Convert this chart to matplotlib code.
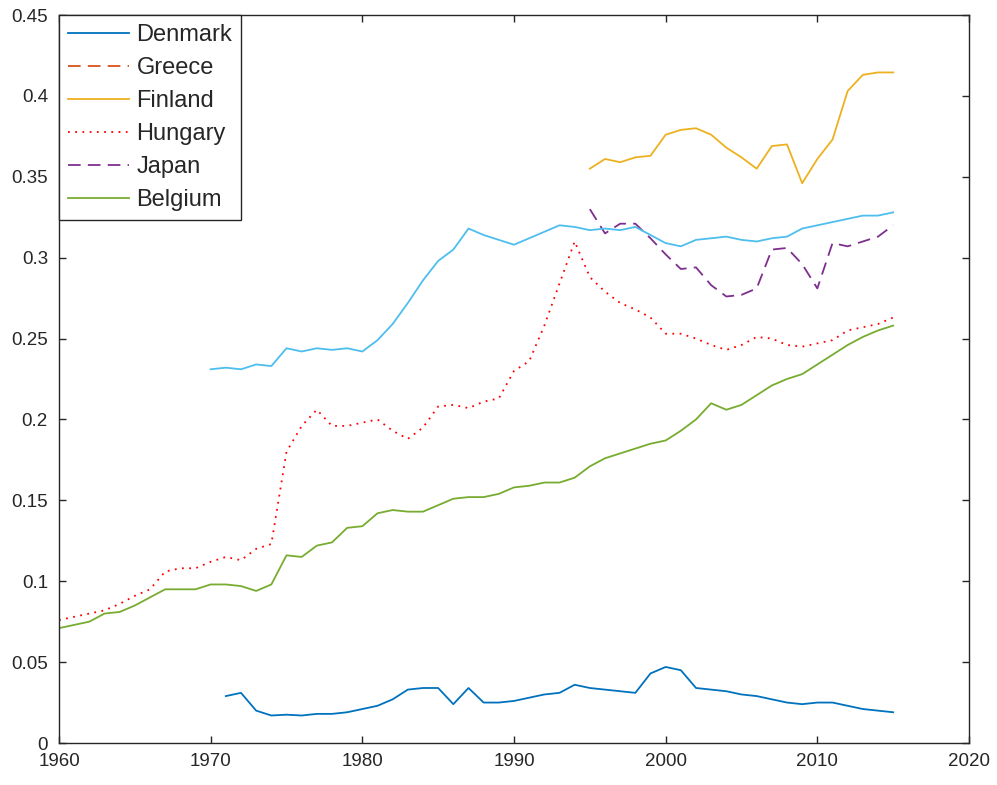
import matplotlib
matplotlib.use("Agg")
import matplotlib.pyplot as plt
import numpy as np

plt.rcParams['font.family'] = ['Liberation Sans', 'DejaVu Sans']

# ---------------- data ----------------
denmark_years = list(range(1971, 2016))
denmark_values = [0.029, 0.031, 0.020, 0.017, 0.0175, 0.017, 0.018, 0.018, 0.019, 0.021,
                  0.023, 0.027, 0.033, 0.034, 0.034, 0.024, 0.034, 0.025, 0.025, 0.026,
                  0.028, 0.030, 0.031, 0.036, 0.034, 0.033, 0.032, 0.031, 0.043, 0.047,
                  0.045, 0.034, 0.033, 0.032, 0.030, 0.029, 0.027, 0.025, 0.024, 0.025,
                  0.025, 0.023, 0.021, 0.020, 0.019]

greece_years = []
greece_values = []

finland_years = list(range(1995, 2016))
finland_values = [0.355, 0.361, 0.359, 0.362, 0.363, 0.376, 0.379, 0.380, 0.376, 0.368,
                  0.362, 0.355, 0.369, 0.370, 0.346, 0.361, 0.373, 0.403, 0.413, 0.4145,
                  0.4145]

hungary_years = list(range(1960, 2016))
hungary_values = [0.076, 0.078, 0.080, 0.082, 0.086, 0.091, 0.095, 0.106, 0.108, 0.108,
                  0.112, 0.115, 0.113, 0.120, 0.123, 0.180, 0.196, 0.206, 0.196, 0.196,
                  0.198, 0.200, 0.193, 0.188, 0.195, 0.208, 0.209, 0.207, 0.211, 0.213,
                  0.230, 0.236, 0.258, 0.284, 0.310, 0.288, 0.279, 0.272, 0.268, 0.263,
                  0.253, 0.253, 0.250, 0.246, 0.243, 0.246, 0.251, 0.250, 0.246, 0.245,
                  0.247, 0.249, 0.255, 0.257, 0.259, 0.263]

japan_years = list(range(1995, 2016))
japan_values = [0.330, 0.315, 0.321, 0.321, 0.312, 0.302, 0.293, 0.294, 0.283, 0.276,
                0.277, 0.281, 0.305, 0.306, 0.296, 0.281, 0.309, 0.307, 0.310, 0.313,
                0.320]

belgium_years = list(range(1960, 2016))
belgium_values = [0.071, 0.073, 0.075, 0.080, 0.081, 0.085, 0.090, 0.095, 0.095, 0.095,
                  0.098, 0.098, 0.097, 0.094, 0.098, 0.116, 0.115, 0.122, 0.124, 0.133,
                  0.134, 0.142, 0.144, 0.143, 0.143, 0.147, 0.151, 0.152, 0.152, 0.154,
                  0.158, 0.159, 0.161, 0.161, 0.164, 0.171, 0.176, 0.179, 0.182, 0.185,
                  0.187, 0.193, 0.200, 0.210, 0.206, 0.209, 0.215, 0.221, 0.225, 0.228,
                  0.234, 0.240, 0.246, 0.251, 0.255, 0.258]

# seventh series (not in legend)
extra_years = list(range(1970, 2016))
extra_values = [0.231, 0.232, 0.231, 0.234, 0.233, 0.244, 0.242, 0.244, 0.243, 0.244,
                0.242, 0.249, 0.259, 0.272, 0.286, 0.298, 0.305, 0.318, 0.314, 0.311,
                0.308, 0.312, 0.316, 0.320, 0.319, 0.317, 0.318, 0.317, 0.319, 0.314,
                0.309, 0.307, 0.311, 0.312, 0.313, 0.311, 0.310, 0.312, 0.313, 0.318,
                0.320, 0.322, 0.324, 0.326, 0.326, 0.328]

x_ticks = [1960, 1970, 1980, 1990, 2000, 2010, 2020]
y_ticks = [0, 0.05, 0.1, 0.15, 0.2, 0.25, 0.3, 0.35, 0.4, 0.45]
y_tick_labels = ['0', '0.05', '0.1', '0.15', '0.2', '0.25', '0.3', '0.35', '0.4', '0.45']

# ---------------- figure ----------------
fig = plt.figure(figsize=(9.97, 7.85), dpi=100)
ax = fig.add_axes([59 / 997, 42 / 785, 910 / 997, 728 / 785])

lw = 1.3
c_blue = (0.0, 0.447, 0.741)
c_orange = (0.85, 0.325, 0.098)
c_yellow = (0.929, 0.694, 0.125)
c_purple = (0.494, 0.184, 0.556)
c_green = (0.466, 0.674, 0.188)
c_light = (0.301, 0.745, 0.933)

ax.plot(denmark_years, denmark_values, color=c_blue, lw=lw, label='Denmark')
ax.plot(greece_years, greece_values, color=c_orange, lw=lw, ls=(0, (7, 4)), label='Greece')
ax.plot(finland_years, finland_values, color=c_yellow, lw=lw, label='Finland')
ax.plot(hungary_years, hungary_values, color='red', lw=lw, ls=(0, (1, 3)), label='Hungary')
ax.plot(japan_years, japan_values, color=c_purple, lw=lw, ls=(0, (7, 4)), label='Japan')
ax.plot(belgium_years, belgium_values, color=c_green, lw=lw, label='Belgium')
ax.plot(extra_years, extra_values, color=c_light, lw=lw)

ax.set_xlim(1960, 2020)
ax.set_ylim(0, 0.45)
ax.set_xticks(x_ticks)
ax.set_yticks(y_ticks)
ax.set_yticklabels(y_tick_labels)

for s in ax.spines.values():
    s.set_color('#262626')
    s.set_linewidth(1.0)
ax.tick_params(direction='in', length=5, width=1.0, colors='#262626',
               labelcolor='#262626', labelsize=13.5,
               top=True, right=True)
ax.tick_params(axis='x', pad=7)
ax.tick_params(axis='y', pad=8)

leg = ax.legend(loc='upper left', fontsize=17, frameon=True, fancybox=False,
                framealpha=1, edgecolor='#262626', borderaxespad=0,
                handlelength=2.6, handletextpad=0.3, labelspacing=0.47,
                borderpad=0.38)
leg.get_frame().set_linewidth(1.0)
for t in leg.get_texts():
    t.set_color('#262626')

fig.savefig('out.png', dpi=100)
